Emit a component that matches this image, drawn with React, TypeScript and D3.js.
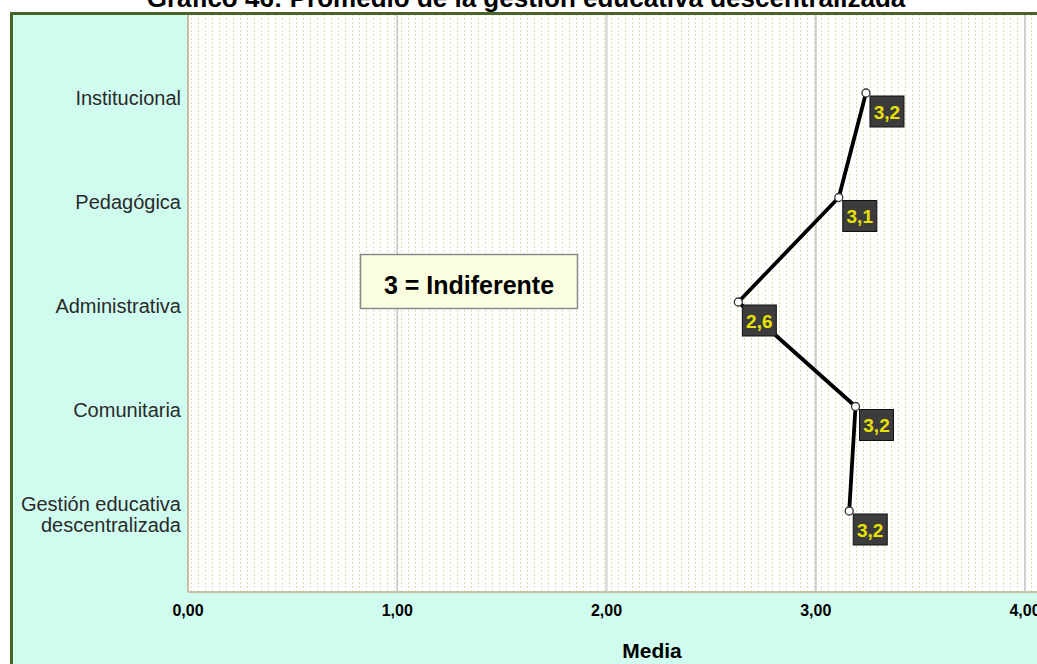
import React from "react";
import * as d3 from "d3";

const categories = [
  "Institucional",
  "Pedagógica",
  "Administrativa",
  "Comunitaria",
  "Gestión educativa\ndescentralizada",
];
const means = [3.24, 3.11, 2.63, 3.19, 3.16];
const valueLabels = ["3,2", "3,1", "2,6", "3,2", "3,2"];
const xTicks = [0, 1, 2, 3, 4];
const xTickLabels = ["0,00", "1,00", "2,00", "3,00", "4,00"];

const W = 1037;
const H = 664;
const plotL = 188;
const plotR = 1025;
const plotT = 14;
const plotB = 592;

export default function App() {
  const x = d3.scaleLinear().domain([0, 4]).range([plotL, plotR]);
  const yLab = d3.scalePoint<string>().domain(categories).range([98, 514]);
  const yPt = d3.scalePoint<string>().domain(categories).range([93, 511]);
  const pts = categories.map((c, i) => [x(means[i]), yPt(c) as number] as [number, number]);
  const line = d3.line()(pts) || "";
  const font = "Arial, 'Liberation Sans', sans-serif";
  return (
    <svg width={W} height={H} style={{ position: "absolute", left: 0, top: 0, display: "block" }} fontFamily={font}>
      <defs>
        <pattern id="dots" width={7} height={4} patternUnits="userSpaceOnUse" x={plotL} y={plotT}>
          <rect x={3} y={0} width={1} height={2} fill="#e0ddb2" />
        </pattern>
      </defs>
      <rect x={0} y={0} width={W} height={H} fill="#ffffff" />
      <rect x={11.5} y={13.5} width={W + 10} height={H + 10} fill="#d0fcf0" stroke="#4a652b" strokeWidth={3} />
      <text x={526} y={7} textAnchor="middle" fontSize={26} fontWeight="bold" fill="#000">
        Gráfico 46: Promedio de la gestión educativa descentralizada
      </text>
      <rect x={plotL} y={plotT + 1} width={plotR - plotL + 20} height={plotB - plotT - 1} fill="#ffffff" />
      <rect x={plotL} y={plotT + 1} width={plotR - plotL + 20} height={plotB - plotT - 1} fill="url(#dots)" />
      {xTicks.slice(1).map((t) => (
        <line key={t} x1={x(t)} x2={x(t)} y1={plotT + 1} y2={plotB} stroke="#cfcfcf" strokeWidth={2} />
      ))}
      <line x1={plotL} x2={plotL} y1={plotT + 1} y2={plotB} stroke="#c8c0a0" strokeWidth={2} />
      <line x1={plotL} x2={W} y1={plotB} y2={plotB} stroke="#c8c0a0" strokeWidth={2} />
      {xTicks.map((t, i) => (
        <text key={t} x={x(t)} y={616} textAnchor="middle" fontSize={16} fontWeight="bold" fill="#000">
          {xTickLabels[i]}
        </text>
      ))}
      <text x={652} y={658} textAnchor="middle" fontSize={21} fontWeight="bold" fill="#000">Media</text>
      {categories.map((c) => {
        const lines = c.split("\n");
        const y0 = (yLab(c) as number) - (lines.length - 1) * 10.5;
        return (
          <text key={c} x={181} textAnchor="end" fontSize={20} fill="#2a2a2a">
            {lines.map((l, j) => (
              <tspan key={j} x={181} y={y0 + j * 21 + 7}>{l}</tspan>
            ))}
          </text>
        );
      })}
      <rect x={360.5} y={254.5} width={217} height={54} fill="#fafde0" stroke="#8a8a8a" strokeWidth={1.5} />
      <text x={469} y={294} textAnchor="middle" fontSize={25} fontWeight="bold" fill="#000">3 = Indiferente</text>
      <path d={line} fill="none" stroke="#000" strokeWidth={3.8} strokeLinejoin="round" />
      {pts.map((p, i) => (
        <circle key={i} cx={p[0]} cy={p[1]} r={4} fill="#fff" stroke="#333" strokeWidth={1.3} />
      ))}
      {pts.map((p, i) => (
        <g key={"l" + i}>
          <rect x={p[0] + 4} y={p[1] + 3} width={34} height={31} fill="#3c3c3c" stroke="#111" strokeWidth={1} />
          <text x={p[0] + 21} y={p[1] + 25.5} textAnchor="middle" fontSize={19} fontWeight="bold" fill="#e8e200">
            {valueLabels[i]}
          </text>
        </g>
      ))}
    </svg>
  );
}
